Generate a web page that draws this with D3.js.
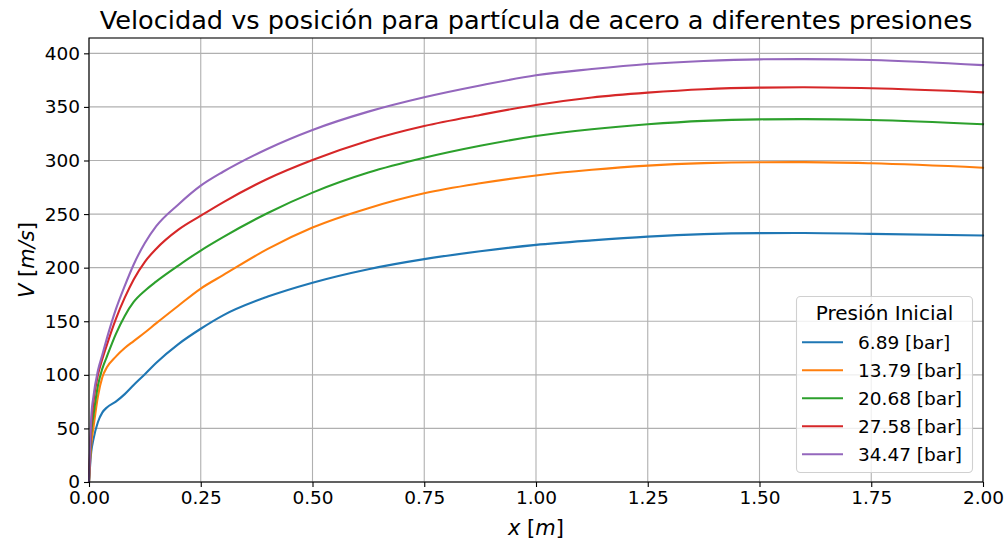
<!DOCTYPE html>
<html><head><meta charset="utf-8">
<script src="https://cdn.jsdelivr.net/npm/d3@7"></script>
<style>body{margin:0;background:#fff;} text{font-family:"DejaVu Sans";}</style>
</head><body>
<svg id="c" width="1006" height="542"></svg>
<script>
const xs =       [0, 0.005, 0.01, 0.02, 0.03, 0.04, 0.06, 0.08, 0.1, 0.125, 0.15, 0.2, 0.25, 0.3, 0.4, 0.5, 0.625, 0.75, 0.875, 1.0, 1.125, 1.25, 1.375, 1.5, 1.6, 1.75, 2.0];
const v689  =    [0, 28, 40, 56, 65, 69.5, 75, 82, 90.5, 100.5, 111, 128.7, 143, 155.5, 173, 186, 198.6, 208, 215.3, 221.3, 225.5, 229, 231.3, 232.2, 232.3, 231.5, 230];
const v1379 =    [0, 35, 51, 80, 98, 107, 117, 125, 131.5, 139.5, 148, 164.5, 180.5, 193, 217.5, 237.4, 255.5, 269.4, 278.7, 286, 291.3, 295.2, 297.5, 298.4, 298.5, 297.4, 293.3];
const v2068 =    [0, 45, 62, 90, 106, 117, 138, 155, 168, 178.5, 187, 202, 216, 228.5, 251, 270, 288.7, 302.5, 313.7, 322.9, 329.2, 333.8, 337, 338.4, 338.6, 337.8, 333.8];
const v2758 =    [0, 52, 75, 100, 115, 128, 152, 172, 189, 205.5, 217.5, 235.5, 248.5, 261, 283, 300.5, 318.5, 332.2, 342.5, 351.8, 358.8, 363.3, 366.5, 368, 368.3, 367.4, 363.6];
const v3447 =    [0, 60, 80, 104, 119, 134, 161, 183, 203, 223, 238.5, 259, 276.5, 289.5, 311, 328.5, 345.6, 359, 370, 379.5, 385.3, 390, 392.9, 394.4, 394.6, 393.8, 389];
const seriesNames = ["6.89 [bar]", "13.79 [bar]", "20.68 [bar]", "27.58 [bar]", "34.47 [bar]"];
const seriesValues = [v689, v1379, v2068, v2758, v3447];
const colors = ["#1f77b4", "#ff7f0e", "#2ca02c", "#d62728", "#9467bd"];
const xTicks = [0, 0.25, 0.5, 0.75, 1.0, 1.25, 1.5, 1.75, 2.0];
const yTicks = [0, 50, 100, 150, 200, 250, 300, 350, 400];

const svg = d3.select("#c");
const L = 89, R = 983, T = 38, B = 482;
const x = d3.scaleLinear().domain([0, 2]).range([L, R]);
const y = d3.scaleLinear().domain([0, 414.3]).range([B, T]);

// grid
const g = svg.append("g");
g.selectAll(".gx").data(xTicks).enter().append("line")
  .attr("x1", d => x(d)).attr("x2", d => x(d)).attr("y1", T).attr("y2", B)
  .attr("stroke", "#b0b0b0").attr("stroke-width", 1.1);
g.selectAll(".gy").data(yTicks).enter().append("line")
  .attr("x1", L).attr("x2", R).attr("y1", d => y(d)).attr("y2", d => y(d))
  .attr("stroke", "#b0b0b0").attr("stroke-width", 1.1);

// lines
const line = d3.line().x(d => x(d[0])).y(d => y(d[1])).curve(d3.curveMonotoneX);
seriesValues.forEach((vals, i) => {
  svg.append("path").datum(xs.map((xv, j) => [xv, vals[j]]))
    .attr("d", line).attr("fill", "none").attr("stroke", colors[i])
    .attr("stroke-width", 2.1).attr("stroke-linejoin", "round").attr("stroke-linecap", "square");
});

// axes
const xAxis = d3.axisBottom(x).tickValues(xTicks).tickFormat(d3.format(".2f")).tickSize(5).tickPadding(4);
const yAxis = d3.axisLeft(y).tickValues(yTicks).tickFormat(d3.format("d")).tickSize(5).tickPadding(4);
const gx = svg.append("g").attr("transform", `translate(0,${B})`).call(xAxis);
const gy = svg.append("g").attr("transform", `translate(${L},0)`).call(yAxis);
[gx, gy].forEach(a => {
  a.select(".domain").remove();
  a.selectAll("line").attr("stroke", "#000").attr("stroke-width", 1.1);
  a.selectAll("text").attr("font-family", "DejaVu Sans").attr("font-size", 18.5).attr("fill", "#000");
});
// frame
svg.append("rect").attr("x", L).attr("y", T).attr("width", R - L).attr("height", B - T)
  .attr("fill", "none").attr("stroke", "#000").attr("stroke-width", 1.1);

// title
svg.append("text").attr("x", (L + R) / 2).attr("y", 28.5).attr("text-anchor", "middle")
  .attr("font-size", 25.6).text("Velocidad vs posición para partícula de acero a diferentes presiones");

// x label
const xl = svg.append("text").attr("x", (L + R) / 2).attr("y", 535).attr("text-anchor", "middle").attr("font-size", 21);
xl.append("tspan").attr("font-style", "italic").text("x");
xl.append("tspan").text(" [");
xl.append("tspan").attr("font-style", "italic").text("m");
xl.append("tspan").text("]");
// y label
const yl = svg.append("text").attr("transform", `translate(34,${(T + B) / 2}) rotate(-90)`).attr("text-anchor", "middle").attr("font-size", 21);
yl.append("tspan").attr("font-style", "italic").text("V");
yl.append("tspan").text(" [");
yl.append("tspan").attr("font-style", "italic").text("m/s");
yl.append("tspan").text("]");

// legend
const lg = svg.append("g");
lg.append("rect").attr("x", 796.5).attr("y", 296.5).attr("width", 176).attr("height", 176).attr("rx", 4)
  .attr("fill", "#fff").attr("fill-opacity", 0.8).attr("stroke", "#d0d0d0").attr("stroke-width", 1.1);
lg.append("text").attr("x", 884.5).attr("y", 320).attr("text-anchor", "middle").attr("font-size", 20).text("Presión Inicial");
seriesNames.forEach((n, i) => {
  const yy = 342.3 + i * 28;
  lg.append("line").attr("x1", 802).attr("x2", 843).attr("y1", yy).attr("y2", yy)
    .attr("stroke", colors[i]).attr("stroke-width", 2.1);
  lg.append("text").attr("x", 858).attr("y", yy + 6.5).attr("font-size", 18.5).text(n);
});
</script>
</body></html>
